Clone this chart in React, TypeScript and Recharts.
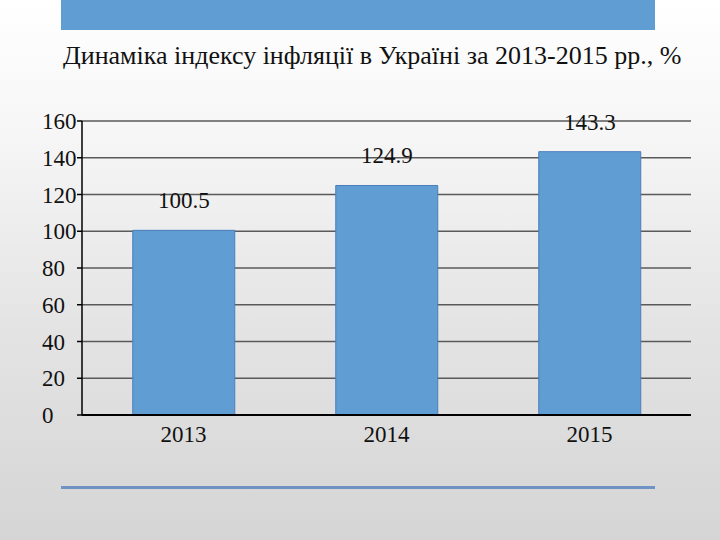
import React from "react";
import { BarChart, Bar, XAxis, YAxis, CartesianGrid, LabelList } from "recharts";

const years = ["2013", "2014", "2015"];
const inflation = [100.5, 124.9, 143.3];
const yTicks = [0, 20, 40, 60, 80, 100, 120, 140, 160];
const boundaryTicks = [0, 1, 2, 3];
const title = "Динаміка індексу інфляції в Україні за 2013-2015 рр., %";

const data = years.map((y, i) => ({ year: y, value: inflation[i] }));

const FONT = "'Liberation Serif', 'Times New Roman', Tinos, serif";

const YTick = (props: any) => {
  const { y, payload } = props;
  return (
    <text x={42} y={y} dy="0.35em" textAnchor="start" style={{ fontFamily: FONT }} fontSize={23} fill="#111">
      {payload.value}
    </text>
  );
};

const XTick = (props: any) => {
  const { x, y, payload } = props;
  return (
    <text x={x} y={y} dy="0.75em" textAnchor="middle" style={{ fontFamily: FONT }} fontSize={23} fill="#111">
      {payload.value}
    </text>
  );
};

const BarLabel = (props: any) => {
  const { x, y, width, value } = props;
  return (
    <text x={x + width / 2} y={y} dy={-22} textAnchor="middle" style={{ fontFamily: FONT }} fontSize={23} fill="#111">
      {value}
    </text>
  );
};

export default function App() {
  return (
    <div
      style={{
        position: "absolute",
        left: 0,
        top: 0,
        width: 720,
        height: 540,
        overflow: "hidden",
        fontFamily: FONT,
        background: "linear-gradient(180deg, #ffffff 0%, #f6f6f6 25%, #e4e4e4 60%, #d5d5d5 100%)",
      }}
    >
      <style>{`body, svg, text { font-family: 'Liberation Serif', 'Times New Roman', Tinos, serif; }`}</style>
      <div style={{ position: "absolute", left: 61, top: 0, width: 594, height: 30, background: "#5f9dd3" }} />
      <svg width={720} height={80} style={{ position: "absolute", left: 0, top: 0 }}>
        <text x={63} y={64} style={{ fontFamily: FONT }} fontSize={26} fill="#111">
          {title}
        </text>
      </svg>
      <div style={{ position: "absolute", left: 61, top: 486, width: 594, height: 3, background: "#7093c6" }} />
      <div style={{ position: "absolute", left: 0, top: 0 }}>
        <BarChart
          width={720}
          height={540}
          data={data}
          margin={{ top: 121, right: 29, bottom: 95, left: 0 }}
          barCategoryGap="25%"
          style={{ fontFamily: FONT }}
        >
          <CartesianGrid horizontal vertical={false} stroke="#5a5a5a" strokeWidth={1.5} />
          <XAxis
            dataKey="year"
            height={30}
            axisLine={{ stroke: "#000", strokeWidth: 2 }}
            tickLine={false}
            tickMargin={4}
            tick={<XTick />}
          />
          <XAxis
            xAxisId="bounds"
            type="number"
            domain={[0, 3]}
            ticks={boundaryTicks}
            allowDataOverflow
            axisLine={false}
            tick={false}
            tickSize={5}
            tickLine={{ stroke: "#000", strokeWidth: 2 }}
            height={0}
          />
          <YAxis
            width={82}
            domain={[0, 160]}
            ticks={yTicks}
            interval={0}
            axisLine={{ stroke: "#000", strokeWidth: 1.5 }}
            tickLine={{ stroke: "#000", strokeWidth: 1.5 }}
            tickSize={5}
            tickMargin={2}
            tick={<YTick />}
          />
          <Bar dataKey="value" fill="#5f9dd3" stroke="#4a7ebb" strokeWidth={1} isAnimationActive={false}>
            <LabelList dataKey="value" content={<BarLabel />} />
          </Bar>
        </BarChart>
      </div>
    </div>
  );
}
